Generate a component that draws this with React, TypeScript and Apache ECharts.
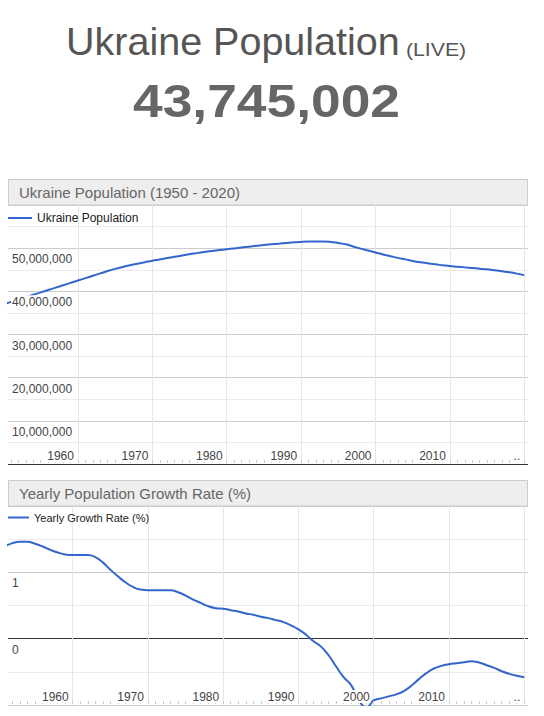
import React, { useEffect, useRef } from 'react';
import * as echarts from 'echarts';

const FONT = "'Liberation Sans', Arial, Helvetica, sans-serif";
const LINE_COLOR = '#3366cc';

// ---- Text content ----
const pageTitle = 'Ukraine Population';
const liveTag = '(LIVE)';
const liveCount = '43,745,002';
const popChartTitle = 'Ukraine Population (1950 - 2020)';
const growthChartTitle = 'Yearly Population Growth Rate (%)';
const popSeriesName = 'Ukraine Population';
const growthSeriesName = 'Yearly Growth Rate (%)';

// ---- Population (millions) ----
const popYears = [
  1950, 1951, 1952, 1953, 1954, 1955, 1956, 1957, 1958, 1959,
  1960, 1961, 1962, 1963, 1964, 1965, 1966, 1967, 1968, 1969,
  1970, 1971, 1972, 1973, 1974, 1975, 1976, 1977, 1978, 1979,
  1980, 1981, 1982, 1983, 1984, 1985, 1986, 1987, 1988, 1989,
  1990, 1991, 1992, 1993, 1994, 1995, 1996, 1997, 1998, 1999,
  2000, 2001, 2002, 2003, 2004, 2005, 2006, 2007, 2008, 2009,
  2010, 2011, 2012, 2013, 2014, 2015, 2016, 2017, 2018, 2019,
  2020,
];
const popMillions = [
  37.0, 37.55, 38.1, 38.65, 39.2, 39.75, 40.3, 40.85, 41.4, 41.95,
  42.5, 43.05, 43.6, 44.15, 44.7, 45.2, 45.65, 46.05, 46.4, 46.75,
  47.1, 47.4, 47.7, 48.0, 48.3, 48.6, 48.85, 49.1, 49.35, 49.55,
  49.75, 49.95, 50.15, 50.35, 50.55, 50.75, 50.9, 51.05, 51.2, 51.35,
  51.45, 51.52, 51.55, 51.55, 51.45, 51.2, 50.9, 50.4, 49.9, 49.45,
  49.0, 48.55, 48.15, 47.75, 47.4, 47.05, 46.75, 46.5, 46.25, 46.05,
  45.85, 45.7, 45.55, 45.4, 45.25, 45.1, 44.9, 44.65, 44.4, 44.1,
  43.75,
];

// ---- Yearly growth rate (%) ----
const growthYears = [
  1951, 1952, 1953, 1954, 1955, 1956, 1957, 1958, 1959,
  1960, 1961, 1962, 1963, 1964, 1965, 1966, 1967, 1968, 1969,
  1970, 1971, 1972, 1973, 1974, 1975, 1976, 1977, 1978, 1979,
  1980, 1981, 1982, 1983, 1984, 1985, 1986, 1987, 1988, 1989,
  1990, 1991, 1992, 1993, 1994, 1995, 1996, 1997, 1998, 1999,
  2000, 2001, 2002, 2003, 2004, 2005, 2006, 2007, 2008, 2009,
  2010, 2011, 2012, 2013, 2014, 2015, 2016, 2017, 2018, 2019,
  2020,
];
const growthRates = [
  1.39, 1.44, 1.46, 1.46, 1.43, 1.39, 1.34, 1.3, 1.27,
  1.26, 1.26, 1.26, 1.23, 1.15, 1.04, 0.94, 0.85, 0.78, 0.74,
  0.73, 0.73, 0.73, 0.73, 0.7, 0.65, 0.59, 0.54, 0.49, 0.46,
  0.45, 0.43, 0.41, 0.38, 0.36, 0.33, 0.31, 0.28, 0.25, 0.2,
  0.14, 0.06, -0.04, -0.12, -0.25, -0.42, -0.58, -0.7, -0.92, -1.04,
  -0.93, -0.9, -0.87, -0.84, -0.79, -0.71, -0.61, -0.52, -0.45, -0.41,
  -0.385, -0.37, -0.355, -0.34, -0.36, -0.4, -0.44, -0.49, -0.53, -0.56,
  -0.58,
];

// ---- Ticks ----
const decadeTicks = [1960, 1970, 1980, 1990, 2000, 2010, 2020];
const yearTicks = growthYears;
const popLabelValues = [10000000, 20000000, 30000000, 40000000, 50000000];
const growthLabelValues = [0, 1];

const labelRich = {
  a: { backgroundColor: '#ffffff', color: '#444444', fontSize: 12, fontFamily: FONT, padding: [1, 1, 0, 1] },
};

function xLabelAxis(gridIndex: number, min: number, max: number) {
  return {
    type: 'value', gridIndex, min, max, position: 'bottom', z: 10, offset: -1,
    axisLine: { show: false, onZero: false },
    axisTick: { show: true, inside: true, length: 3, customValues: yearTicks, lineStyle: { color: '#cccccc', width: 1 } },
    axisLabel: {
      show: true, inside: true, margin: 1, customValues: decadeTicks, align: 'right',
      padding: [0, 3, 0, 0],
      formatter: (v: number) => `{a|${v === 2020 ? '..' : String(v)}}`,
      rich: labelRich, color: '#444444', fontSize: 12, fontFamily: FONT,
    },
    splitLine: { show: false },
  };
}

function xGridAxis(gridIndex: number, min: number, max: number) {
  return {
    type: 'value', gridIndex, min, max, position: 'bottom', z: 0,
    axisLine: { show: false, onZero: false },
    axisTick: { show: false, customValues: decadeTicks },
    axisLabel: { show: false },
    splitLine: { show: true, lineStyle: { color: '#e6e6e6', width: 1 } },
  };
}

function yGridAxis(gridIndex: number, min: number, max: number, interval: number, colors: string[]) {
  return {
    type: 'value', gridIndex, min, max, interval, position: 'left', z: 0,
    axisLine: { show: false, onZero: false }, axisTick: { show: false }, axisLabel: { show: false },
    splitLine: { show: true, lineStyle: { color: colors, width: 1 } },
    minorTick: { show: false, splitNumber: 2 },
    minorSplitLine: { show: true, lineStyle: { color: '#ebebeb', width: 1 } },
  };
}

function yLabelAxis(gridIndex: number, min: number, max: number, interval: number, values: number[]) {
  return {
    type: 'value', gridIndex, min, max, interval, position: 'left', z: 10,
    axisLine: { show: false, onZero: false }, axisTick: { show: false }, splitLine: { show: false },
    axisLabel: {
      show: true, inside: true, margin: 3, customValues: values, align: 'left', verticalAlign: 'top',
      padding: [4, 0, 0, 0],
      formatter: (v: number) => `{a|${v.toLocaleString('en-US')}}`,
      rich: labelRich, color: '#444444', fontSize: 12, fontFamily: FONT,
    },
  };
}

export default function App() {
  const ref = useRef<HTMLDivElement>(null);

  useEffect(() => {
    if (!ref.current) return;
    const chart = echarts.init(ref.current, undefined, { renderer: 'svg' });

    const option: any = {
      animation: false,
      backgroundColor: '#ffffff',
      textStyle: { fontFamily: FONT },
      grid: [
        { left: 8, top: 205, width: 520, height: 259, outerBoundsMode: 'none', containLabel: false },
        { left: 8, top: 506, width: 520, height: 199, outerBoundsMode: 'none', containLabel: false },
      ],
      xAxis: [
        xLabelAxis(0, 1950.6, 2020.5),
        xGridAxis(0, 1950.6, 2020.5),
        xLabelAxis(1, 1951.4, 2020.5),
        xGridAxis(1, 1951.4, 2020.5),
      ],
      yAxis: [
        yGridAxis(0, 0, 60000000, 10000000, ['#333333', '#cccccc', '#cccccc', '#cccccc', '#cccccc', '#cccccc', '#cccccc']),
        yLabelAxis(0, 0, 60000000, 10000000, popLabelValues),
        yGridAxis(1, -1, 2, 1, ['#cccccc', '#333333', '#cccccc', '#cccccc']),
        yLabelAxis(1, -1, 2, 1, growthLabelValues),
      ],
      legend: [
        {
          data: [popSeriesName], left: 8, top: 212, padding: 0, icon: 'rect', itemWidth: 24, itemHeight: 2,
          selectedMode: false, textStyle: { fontSize: 12, color: '#222222', fontFamily: FONT },
        },
        {
          data: [growthSeriesName], left: 8, top: 512, padding: 0, icon: 'rect', itemWidth: 21, itemHeight: 2,
          selectedMode: false, textStyle: { fontSize: 11, color: '#222222', fontFamily: FONT },
        },
      ],
      series: [
        {
          type: 'line', name: popSeriesName, xAxisIndex: 0, yAxisIndex: 0, z: 5,
          data: popYears.map((y, i) => [y, popMillions[i] * 1000000]),
          smooth: true, showSymbol: false, symbol: 'none',
          lineStyle: { color: LINE_COLOR, width: 2 }, itemStyle: { color: LINE_COLOR },
        },
        {
          type: 'line', name: growthSeriesName, xAxisIndex: 2, yAxisIndex: 2, z: 5,
          data: growthYears.map((y, i) => [y, growthRates[i]]),
          smooth: true, showSymbol: false, symbol: 'none',
          lineStyle: { color: LINE_COLOR, width: 2 }, itemStyle: { color: LINE_COLOR },
        },
      ],
      graphic: [
        {
          type: 'text', x: 66, y: 41,
          style: { text: pageTitle, fontSize: 39.5, fontFamily: FONT, fill: '#555555', textAlign: 'left', textVerticalAlign: 'middle', align: 'left', verticalAlign: 'middle' },
        },
        {
          type: 'text', x: 406, y: 49.5, scaleX: 1.18,
          style: { text: liveTag, fontSize: 18, fontFamily: FONT, fill: '#555555', textAlign: 'left', textVerticalAlign: 'middle', align: 'left', verticalAlign: 'middle' },
        },
        {
          type: 'text', x: 266.5, y: 101, scaleX: 1.16,
          style: { text: liveCount, fontSize: 46, fontWeight: 'bold', fontFamily: FONT, fill: '#666666', textAlign: 'center', textVerticalAlign: 'middle', align: 'center', verticalAlign: 'middle' },
        },
        {
          type: 'rect', shape: { x: 8.5, y: 179.5, width: 519, height: 25.5 },
          style: { fill: '#eeeeee', stroke: '#cccccc', lineWidth: 1 },
        },
        {
          type: 'text', x: 19, y: 192,
          style: { text: popChartTitle, fontSize: 15, fontFamily: FONT, fill: '#666666', textAlign: 'left', textVerticalAlign: 'middle', align: 'left', verticalAlign: 'middle' },
        },
        {
          type: 'rect', shape: { x: 8.5, y: 480.5, width: 519, height: 25.5 },
          style: { fill: '#eeeeee', stroke: '#cccccc', lineWidth: 1 },
        },
        {
          type: 'text', x: 19, y: 493,
          style: { text: growthChartTitle, fontSize: 15, fontFamily: FONT, fill: '#666666', textAlign: 'left', textVerticalAlign: 'middle', align: 'left', verticalAlign: 'middle' },
        },
      ],
    };

    chart.setOption(option);
    return () => chart.dispose();
  }, []);

  return (
    <div
      ref={ref}
      style={{ position: 'fixed', left: 0, top: 0, width: 544, height: 716, background: '#ffffff' }}
    />
  );
}
